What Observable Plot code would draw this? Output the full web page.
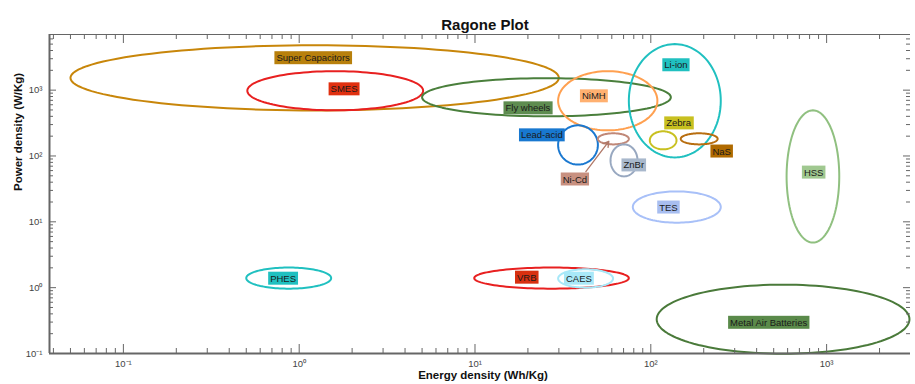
<!DOCTYPE html>
<html><head><meta charset="utf-8">
<script src="https://cdn.jsdelivr.net/npm/d3@7"></script>
<script src="https://cdn.jsdelivr.net/npm/@observablehq/plot@0.6"></script>
<style>body{margin:0;background:#fff} svg{font-family:"Liberation Sans",Arial,sans-serif}</style>
</head><body><div id="chart"></div>
<script>
// Technologies (ellipse extents in Wh/Kg and W/Kg)
const names      = ["Super Capacitors","SMES","Fly wheels","NiMH","Li-ion","Zebra","NaS","Lead-acid","Ni-Cd","ZnBr","TES","HSS","PHES","VRB","CAES","Metal Air Batteries"];
const energyMin  = [0.05, 0.507, 5,    29.7, 75,   98.7, 148,  29.7, 50,   59,   79,   592,  0.5,  9.9,  29.7, 108];
const energyMax  = [30,   5.07,  130,  109,  250,  140,  240,  50,   75,   84,   250,  1180, 1.52, 75,   61,   2960];
const powerMin   = [492,  494,   400,  245,  95,   126,  150,  74,   150,  49,   9.7,  4.84, 0.966,0.966,1.0,  0.099];
const powerMax   = [4800, 1940,  1520, 1940, 5000, 237,  221,  292,  221,  150,  29,   494,  2.02, 2.02, 1.9,  1.11];
const labelEnergy= [1.2,  1.8,   20,   47.4, 139,  144,  253,  24,   37,   80,   126,  844,  0.81, 19.7, 39,   468];
const labelPower = [3060, 1030,  530,  807,  2390, 313,  117,  206,  44,   72,   16.5, 56,   1.37, 1.42, 1.37, 0.293];
// Ni-Cd pointer arrow
const arrowFrom = {energy: 42.7, power: 58};
const arrowTo   = {energy: 57.7, power: 167};
// tick labels
const xTickValues = [0.1, 1, 10, 100, 1000];
const yTickValues = [0.1, 1, 10, 100, 1000];
const tickLabels  = {"0.1":"10⁻¹","1":"10⁰","10":"10¹","100":"10²","1000":"10³"};

// styles
const strokeColors = {"Super Capacitors":"#c8860a","SMES":"#e82020","Fly wheels":"#4a7f3c","NiMH":"#ffa050","Li-ion":"#20c0c0","Zebra":"#c8c020","NaS":"#b86e10","Lead-acid":"#1a78d0","Ni-Cd":"#c08878","ZnBr":"#98a8c0","TES":"#a8c0f8","HSS":"#90c080","PHES":"#20c0c0","VRB":"#e82020","CAES":"#a8e8f8","Metal Air Batteries":"#4a7a3a"};
const labelColors  = {"Super Capacitors":"#b8800c","SMES":"#e03010","Fly wheels":"#5e8c50","NiMH":"#ffb070","Li-ion":"#20c0c0","Zebra":"#c8c020","NaS":"#b06a00","Lead-acid":"#1878d0","Ni-Cd":"#c89080","ZnBr":"#a8b8cc","TES":"#a8bef0","HSS":"#a0c890","PHES":"#20c0c0","VRB":"#d83010","CAES":"#a8e8f8","Metal Air Batteries":"#5a8a4a"};

const W = 915, H = 384, mL = 49, mR = 5, mT = 34, mB = 31;
const xDomain = [0.038, 3000], yDomain = [0.1, 7000];

// ellipse outlines in log space from extents
const outline = [];
names.forEach((n, i) => {
  const a = Math.log10(energyMin[i]), b = Math.log10(energyMax[i]);
  const c = Math.log10(powerMin[i]), d = Math.log10(powerMax[i]);
  const cx = (a + b) / 2, rx = (b - a) / 2, cy = (c + d) / 2, ry = (d - c) / 2;
  for (let k = 0; k <= 120; k++) {
    const t = 2 * Math.PI * k / 120;
    outline.push({name: n, x: 10 ** (cx + rx * Math.cos(t)), y: 10 ** (cy + ry * Math.sin(t))});
  }
});
const labels = names.map((n, i) => ({name: n, x: labelEnergy[i], y: labelPower[i]}));

function minorTicks(domain) {
  const out = [];
  for (let e = -2; e <= 4; e++) for (let m = 2; m <= 9; m++) {
    const v = m * 10 ** e;
    if (v > domain[0] && v < domain[1]) out.push(v);
  }
  return out;
}
const xMinor = minorTicks(xDomain), yMinor = minorTicks(yDomain);
const pw = W - mL - mR, ph = H - mT - mB;
const axisColor = "#666";

const chart = Plot.plot({
  width: W, height: H, marginLeft: mL, marginRight: mR, marginTop: mT, marginBottom: mB,
  x: {type: "log", domain: xDomain, axis: null},
  y: {type: "log", domain: yDomain, axis: null},
  color: {type: "identity"},
  style: {fontFamily: '"Liberation Sans", Arial, sans-serif', background: "#fff"},
  marks: [
    Plot.line(outline, {x: "x", y: "y", z: "name", stroke: d => strokeColors[d.name], strokeWidth: 2}),
    Plot.arrow([0], {x1: () => arrowFrom.energy, y1: () => arrowFrom.power, x2: () => arrowTo.energy, y2: () => arrowTo.power, stroke: "#b07868", strokeWidth: 1.3, headLength: 7}),
    Plot.text(labels, {x: "x", y: "y", text: "name", fontSize: 9.5, fill: "#1a1a1a", className: "techlbl"}),
    // frame lines
    Plot.ruleY([yDomain[0]], {stroke: axisColor, strokeWidth: 2}),
    Plot.ruleY([yDomain[1]], {stroke: axisColor, strokeWidth: 1}),
    Plot.ruleX([xDomain[0]], {stroke: axisColor, strokeWidth: 2}),
    // bottom ticks
    Plot.tickX(xTickValues, {x: d => d, stroke: axisColor, insetTop: ph - 9}),
    Plot.tickX(xMinor, {x: d => d, stroke: axisColor, insetTop: ph - 5}),
    // top ticks
    Plot.tickX(xTickValues, {x: d => d, stroke: axisColor, insetBottom: ph - 9}),
    Plot.tickX(xMinor, {x: d => d, stroke: axisColor, insetBottom: ph - 5}),
    // left ticks
    Plot.tickY(yTickValues, {y: d => d, stroke: axisColor, insetRight: pw - 7}),
    Plot.tickY(yMinor, {y: d => d, stroke: axisColor, insetRight: pw - 4}),
    // right ticks
    Plot.tickY(yTickValues, {y: d => d, stroke: axisColor, insetLeft: pw - 7}),
    Plot.tickY(yMinor, {y: d => d, stroke: axisColor, insetLeft: pw - 4}),
    // tick labels
    Plot.text(xTickValues, {x: d => d, frameAnchor: "bottom", dy: 13, text: d => tickLabels[String(d)], fontSize: 9.5, fill: "#444"}),
    Plot.text(yTickValues, {y: d => d, frameAnchor: "left", dx: -7, textAnchor: "end", text: d => tickLabels[String(d)], fontSize: 9.5, fill: "#444"}),
    // title & axis labels
    Plot.text(["Ragone Plot"], {frameAnchor: "top", dy: -15, dx: 5, fontSize: 15, fontWeight: "bold", fill: "#111"}),
    Plot.text(["Energy density (Wh/Kg)"], {frameAnchor: "bottom", dy: 25, dx: 3, fontSize: 11.5, fontWeight: "bold", fill: "#111"}),
    Plot.text(["Power density (W/Kg)"], {frameAnchor: "left", dx: -31, dy: -3, rotate: -90, fontSize: 11.5, fontWeight: "bold", fill: "#111"})
  ]
});
document.getElementById("chart").append(chart);

// colored boxes behind technology labels
const g = chart.querySelector("g.techlbl");
if (g) {
  const texts = Array.from(g.querySelectorAll("text"));
  texts.forEach((t, i) => {
    const bb = t.getBBox();
    const r = document.createElementNS("http://www.w3.org/2000/svg", "rect");
    r.setAttribute("x", bb.x - 2);
    r.setAttribute("y", bb.y - 1);
    r.setAttribute("width", bb.width + 4);
    r.setAttribute("height", bb.height + 2);
    r.setAttribute("fill", labelColors[names[i]]);
    const tr = t.getAttribute("transform");
    if (tr) r.setAttribute("transform", tr);
    g.insertBefore(r, t);
  });
}
</script>
</body></html>
